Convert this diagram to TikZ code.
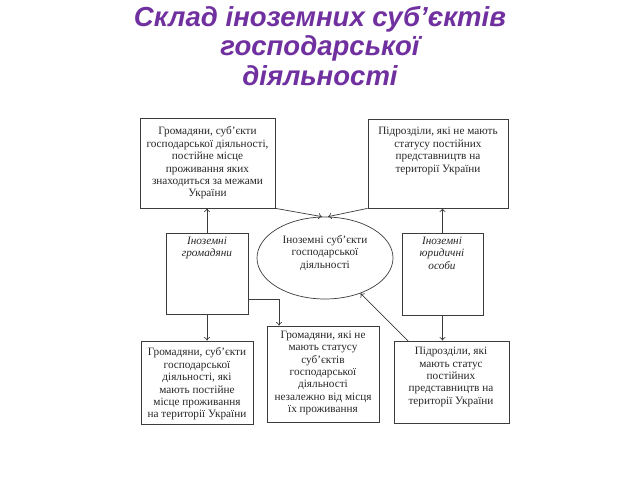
\documentclass[tikz,border=0pt]{standalone}
\usepackage{fontspec}
\setmainfont{Liberation Serif}
\newfontfamily\titlefont{Liberation Sans}
\usetikzlibrary{shapes.geometric,fit,arrows.meta}
\definecolor{ttl}{RGB}{112,48,160}
\definecolor{ln}{RGB}{60,60,60}
\begin{document}
\begin{tikzpicture}[x=0.03cm,y=-0.03cm,
  box/.style={draw=ln, line width=0.6pt, inner sep=0pt},
  txt/.style={align=center, font=\fontsize{9.6}{10.6}\selectfont, inner sep=0pt, text=black!85},
  itx/.style={align=center, font=\fontsize{9.6}{10.8}\selectfont\itshape, inner sep=0pt, text=black!85},
  arr/.style={draw=ln, line width=0.6pt, -{To[length=3pt,width=5pt]}}]
\useasboundingbox (0,0) rectangle (640,480);
\node[font=\titlefont\bfseries\itshape\fontsize{23.5}{25.5}\selectfont, text=ttl, align=center, inner sep=0pt] (title) at (320,46) {Склад іноземних суб’єктів\\господарської\\діяльності};

% boxes
\node[box, fit={(140,118)(275,208)}] (b1) {};
\node[box, fit={(368,119)(508,208)}] (b2) {};
\node[box, fit={(166,233)(248,314)}] (b3) {};
\node[box, fit={(402,233)(483,315)}] (b4) {};
\node[box, fit={(141,341)(253,424)}] (b5) {};
\node[box, fit={(267,326)(379,422)}] (b6) {};
\node[box, fit={(394,341)(509,423)}] (b7) {};
\node[draw=ln, line width=0.6pt, ellipse, minimum width=4.08cm, minimum height=2.46cm, inner sep=0pt] (e) at (325,258) {};

% texts
\node[txt] (t1) at (207.5,163) {Громадяни, суб’єкти\\господарської діяльності,\\постійне місце\\проживання яких\\знаходиться за межами\\України};
\node[txt] (t2) at (438,151) {Підрозділи, які не мають\\статусу постійних\\представництв на\\території України};
\node[itx] (t3) at (207,248) {Іноземні\\громадяни};
\node[itx] (t4) at (442,253) {Іноземні\\юридичні\\особи};
\node[txt] (te) at (325,253) {Іноземні суб’єкти\\господарської\\діяльності};
\node[txt] (t5) at (197,384) {Громадяни, суб’єкти\\господарської\\діяльності, які\\мають постійне\\місце проживання\\на території України};
\node[txt] (t6) at (323,373) {Громадяни, які не\\мають статусу\\суб’єктів\\господарської\\діяльності\\незалежно від місця\\їх проживання};
\node[txt] (t7) at (451,377) {Підрозділи, які\\мають статус\\постійних\\представництв на\\території України};

% connectors
\coordinate (c1) at (248,299);
\coordinate (c2) at (408,341);
\draw[arr] (b3.north) -- (b3.north |- b1.south);
\draw[arr] (b4.north) -- (b4.north |- b2.south);
\draw[arr] (b1.south east) -- ([xshift=-0.09cm]e.north);
\draw[arr] (b2.south west) -- ([xshift=0.09cm]e.north);
\draw[arr] (c1) -| ([xshift=-1.32cm]b6.north);
\draw[arr] (b3.south) -- (b3.south |- b5.north);
\draw[arr] (b4.south) -- (b4.south |- b7.north);
\draw[arr] (c2) -- (e);
\end{tikzpicture}
\end{document}
